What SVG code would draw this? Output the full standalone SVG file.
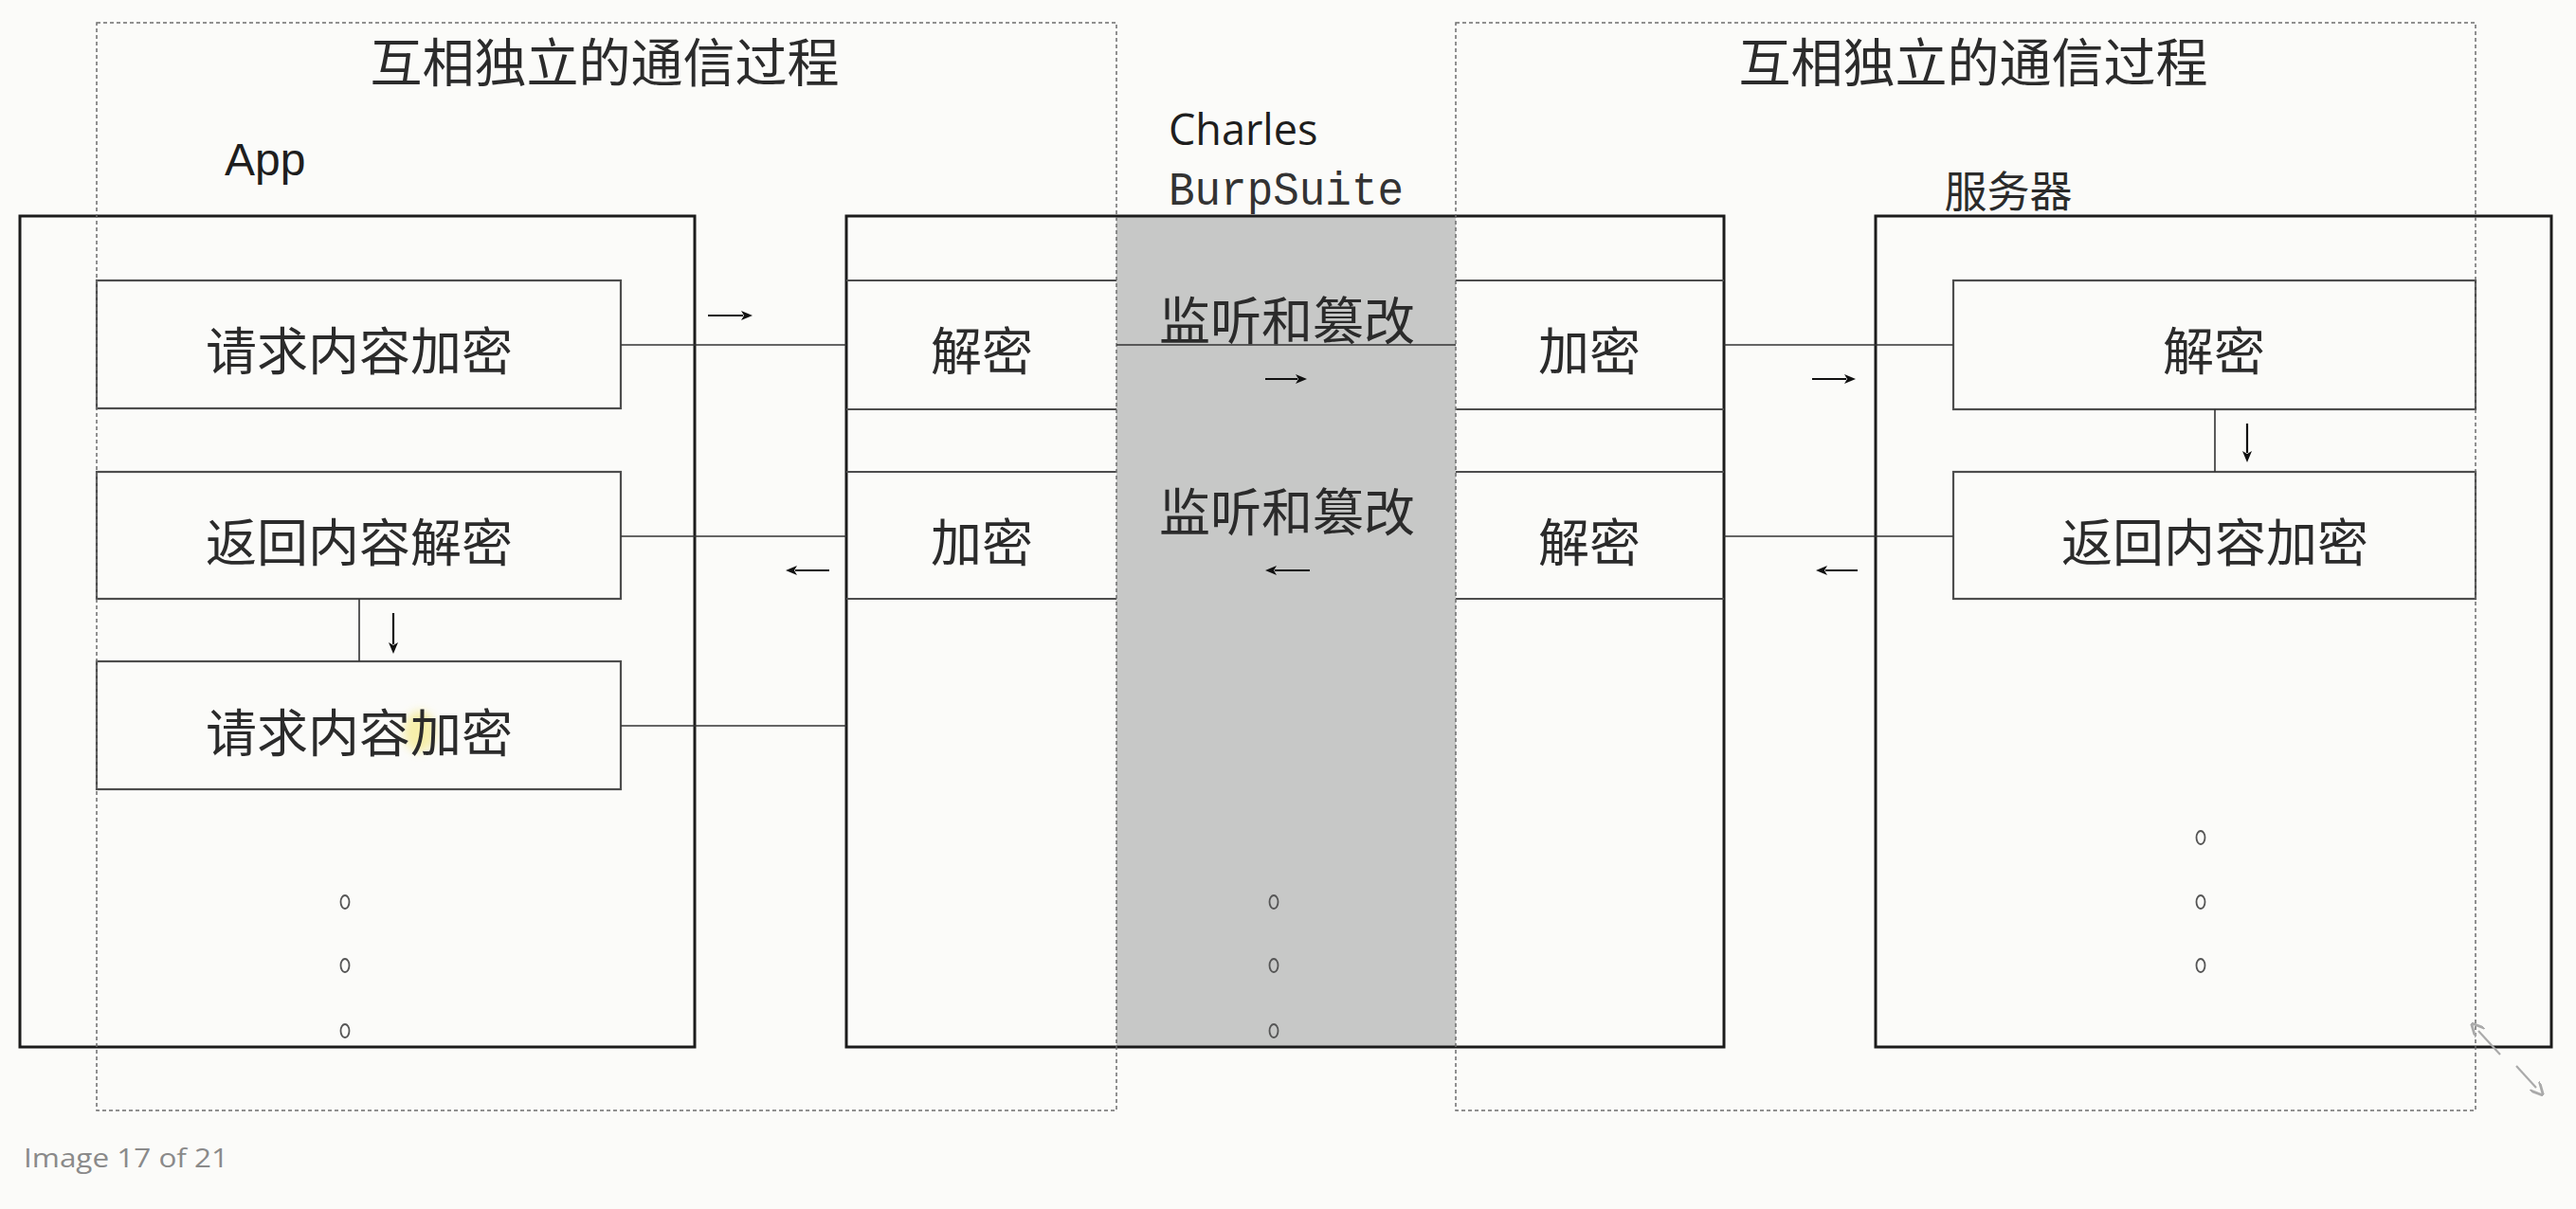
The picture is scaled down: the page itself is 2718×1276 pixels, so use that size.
<svg xmlns="http://www.w3.org/2000/svg" width="2718" height="1276" viewBox="0 0 2718 1276">
  <style>
    .frame { fill: none; stroke: #6e6e6e; stroke-width: 1.5; stroke-dasharray: 4 3; }
    .outer { fill: none; stroke: #1c1c1c; stroke-width: 3; }
    .inner { fill: none; stroke: #4d4d4d; stroke-width: 2.2; }
    .wire { fill: none; stroke: #333; stroke-width: 1.6; }
    .arrow { fill: none; stroke: #111; stroke-width: 2.2; marker-end: url(#head); }
    .cjk { font-family: "Noto Sans CJK SC", sans-serif; fill: #2b2b2b; text-anchor: middle; dominant-baseline: central; }
    .big { font-size: 54px; }
    .dot { fill: none; stroke: #555; stroke-width: 1.8; }
  </style>
  <defs>
    <marker id="head" viewBox="0 0 12 10" refX="2" refY="5" markerWidth="12" markerHeight="10" markerUnits="userSpaceOnUse" orient="auto">
      <path d="M0,0 L12,5 L0,10 L3,5 z" fill="#111"/>
    </marker>
    <marker id="headGrey" viewBox="0 0 10 10" refX="2" refY="5" markerWidth="14" markerHeight="14" markerUnits="userSpaceOnUse" orient="auto">
      <path d="M0,0 L10,5 L0,10" fill="none" stroke="#aaa" stroke-width="2"/>
    </marker>
    <filter id="soft" x="-50%" y="-50%" width="200%" height="200%">
      <feGaussianBlur stdDeviation="5"/>
    </filter>
  </defs>

  <!-- page -->
  <rect x="0" y="0" width="2718" height="1276" fill="#fbfbf9"/>

  <!-- intercepting proxy band -->
  <rect id="proxy-band" x="1178" y="228" width="358" height="877" fill="#c7c8c7"/>

  <!-- App -->
  <g id="app">
    <rect class="outer" x="21" y="228" width="712" height="877"/>
    <text x="237" y="185" font-family="Liberation Sans, Arial, sans-serif" font-size="48" fill="#1e1e1e">App</text>
  </g>
  <g id="app-req-encrypt">
    <rect class="inner" x="102" y="296" width="553" height="135"/>
    <text class="cjk big" x="379" y="367">请求内容加密</text>
  </g>
  <g id="app-resp-decrypt">
    <rect class="inner" x="102" y="498" width="553" height="134"/>
    <text class="cjk big" x="379" y="569">返回内容解密</text>
  </g>
  <g id="app-req-encrypt-2">
    <rect class="inner" x="102" y="698" width="553" height="135"/>
    <ellipse cx="443" cy="772" rx="17" ry="22" fill="#f2e46a" opacity="0.55" filter="url(#soft)"/>
    <text class="cjk big" x="379" y="770">请求内容加密</text>
  </g>
  <g id="app-more">
    <ellipse class="dot" cx="364" cy="952" rx="4.5" ry="7"/>
    <ellipse class="dot" cx="364" cy="1019" rx="4.5" ry="7"/>
    <ellipse class="dot" cx="364" cy="1088" rx="4.5" ry="7"/>
  </g>

  <!-- Proxy (Charles / BurpSuite) -->
  <g id="proxy">
    <rect class="outer" x="893" y="228" width="926" height="877"/>
    <text x="1233" y="153" font-family="Open Sans, Liberation Sans, sans-serif" font-size="45" fill="#1e1e1e">Charles</text>
    <text x="1233" y="216" font-family="Liberation Mono, Courier New, monospace" font-size="50" textLength="248" lengthAdjust="spacingAndGlyphs" fill="#333">BurpSuite</text>
  </g>
  <g id="proxy-decrypt-in">
    <path class="inner" d="M893,296 H1178 M893,432 H1178"/>
    <text class="cjk big" x="1036" y="367">解密</text>
  </g>
  <g id="proxy-encrypt-out">
    <path class="inner" d="M893,498 H1178 M893,632 H1178"/>
    <text class="cjk big" x="1036" y="569">加密</text>
  </g>
  <g id="proxy-tamper-1">
    <text class="cjk big" x="1358" y="335">监听和篡改</text>
  </g>
  <g id="proxy-tamper-2">
    <text class="cjk big" x="1358" y="537">监听和篡改</text>
  </g>
  <g id="proxy-encrypt-in">
    <path class="inner" d="M1536,296 H1819 M1536,432 H1819"/>
    <text class="cjk big" x="1677" y="367">加密</text>
  </g>
  <g id="proxy-decrypt-out">
    <path class="inner" d="M1536,498 H1819 M1536,632 H1819"/>
    <text class="cjk big" x="1677" y="569">解密</text>
  </g>
  <g id="proxy-more">
    <ellipse class="dot" cx="1344" cy="952" rx="4.5" ry="7"/>
    <ellipse class="dot" cx="1344" cy="1019" rx="4.5" ry="7"/>
    <ellipse class="dot" cx="1344" cy="1088" rx="4.5" ry="7"/>
  </g>

  <!-- Server -->
  <g id="server">
    <rect class="outer" x="1979" y="228" width="713" height="877"/>
    <text class="cjk" x="2119" y="199" font-size="45">服务器</text>
  </g>
  <g id="server-decrypt">
    <rect class="inner" x="2061" y="296" width="551" height="136"/>
    <text class="cjk big" x="2336" y="367">解密</text>
  </g>
  <g id="server-resp-encrypt">
    <rect class="inner" x="2061" y="498" width="551" height="134"/>
    <text class="cjk big" x="2337" y="569">返回内容加密</text>
  </g>
  <g id="server-more">
    <ellipse class="dot" cx="2322" cy="884" rx="4.5" ry="7"/>
    <ellipse class="dot" cx="2322" cy="952" rx="4.5" ry="7"/>
    <ellipse class="dot" cx="2322" cy="1019" rx="4.5" ry="7"/>
  </g>

  <!-- independent sessions -->
  <g id="session-left">
    <rect class="frame" x="102" y="24" width="1076" height="1148"/>
    <text class="cjk" x="638" y="62" font-size="55">互相独立的通信过程</text>
  </g>
  <g id="session-right">
    <rect class="frame" x="1536" y="24" width="1076" height="1148"/>
    <text class="cjk" x="2082" y="62" font-size="55">互相独立的通信过程</text>
  </g>

  <!-- connectors -->
  <g id="connectors">
    <path class="wire" d="M655,364 H893"/>
    <path class="wire" d="M1178,364 H1536"/>
    <path class="wire" d="M1819,364 H2061"/>
    <path class="wire" d="M2061,566 H1819"/>
    <path class="wire" d="M893,566 H655"/>
    <path class="wire" d="M655,766 H893"/>
    <path class="wire" d="M379,632 V698"/>
    <path class="wire" d="M2337,432 V498"/>

    <line class="arrow" x1="747" y1="333" x2="784" y2="333"/>
    <line class="arrow" x1="1335" y1="400" x2="1369" y2="400"/>
    <line class="arrow" x1="1912" y1="400" x2="1948" y2="400"/>
    <line class="arrow" x1="875" y1="602" x2="839" y2="602"/>
    <line class="arrow" x1="1382" y1="602" x2="1345" y2="602"/>
    <line class="arrow" x1="1960" y1="602" x2="1926" y2="602"/>
    <line class="arrow" x1="415" y1="647" x2="415" y2="680"/>
    <line class="arrow" x1="2371" y1="447" x2="2371" y2="478"/>
  </g>

  <!-- viewer chrome -->
  <g id="resize-handle">
    <line x1="2638" y1="1113" x2="2615" y2="1088" stroke="#aaa" stroke-width="2.2" marker-end="url(#headGrey)"/>
    <line x1="2655" y1="1125" x2="2676" y2="1148" stroke="#aaa" stroke-width="2.2" marker-end="url(#headGrey)"/>
  </g>
  <text x="25" y="1232" font-family="Open Sans, Liberation Sans, sans-serif" font-size="28" textLength="216" lengthAdjust="spacingAndGlyphs" fill="#8a8a8a">Image 17 of 21</text>
</svg>
